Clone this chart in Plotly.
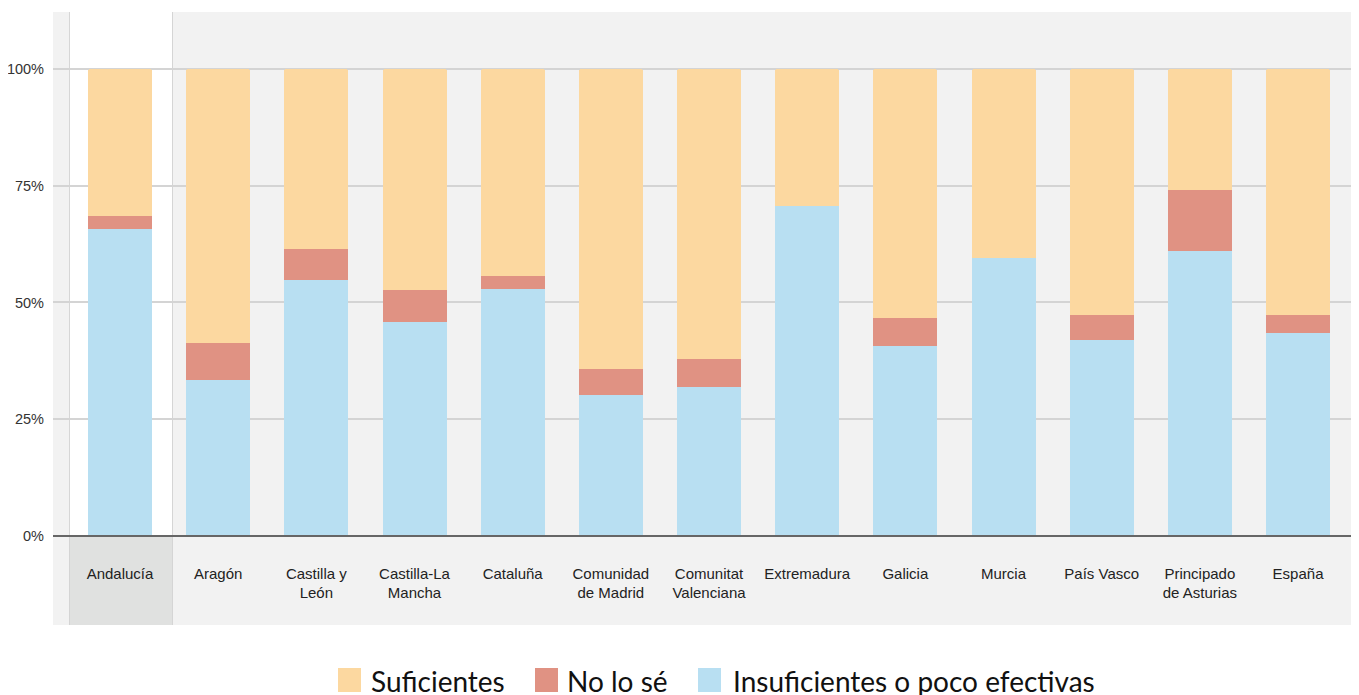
import plotly.graph_objects as go

categories = ["Andalucía", "Aragón", "Castilla y<br>León", "Castilla-La<br>Mancha", "Cataluña",
              "Comunidad<br>de Madrid", "Comunitat<br>Valenciana", "Extremadura", "Galicia",
              "Murcia", "País Vasco", "Principado<br>de Asturias", "España"]
insuficientes = [65.8, 33.5, 54.9, 45.9, 52.8, 30.1, 31.8, 70.7, 40.6, 59.5, 41.9, 61.1, 43.4]
no_lo_se = [2.8, 7.8, 6.6, 6.7, 2.8, 5.6, 6.0, 0.0, 6.0, 0.0, 5.5, 13.0, 4.0]
suficientes = [round(100 - a - b, 1) for a, b in zip(insuficientes, no_lo_se)]

series_names = ["Suficientes", "No lo sé", "Insuficientes o poco efectivas"]
colors = {"Suficientes": "#fcd8a0", "No lo sé": "#e09283", "Insuficientes o poco efectivas": "#b8dff2"}
y_ticks = [0, 25, 50, 75, 100]
y_ticktext = ["0%", "25%", "50%", "75%", "100%"]

W, H = 1359, 695
OFF = 8  # page body margin
ML, MR, MT, MB = 45, 8, 4, 78
plot_w = W - ML - MR
plot_h = H - MT - MB

fig = go.Figure()
for name, vals in [("Insuficientes o poco efectivas", insuficientes), ("No lo sé", no_lo_se), ("Suficientes", suficientes)]:
    fig.add_trace(go.Bar(
        x=categories, y=vals, name=name, width=0.652,
        marker=dict(color=colors[name], line=dict(width=0)),
        showlegend=False, hovertemplate="%{y}%<extra>" + name + "</extra>",
    ))

shapes = []
shapes.append(dict(type="rect", xref="x", yref="y", x0=-0.51, x1=0.53, y0=0, y1=113,
                   fillcolor="white", line=dict(width=0), layer="below"))
shapes.append(dict(type="rect", xref="x", yref="y", x0=-0.51, x1=0.53, y0=-20, y1=0,
                   fillcolor="#e0e1e0", line=dict(width=0), layer="below"))
for xv in (-0.51, 0.53):
    shapes.append(dict(type="line", xref="x", yref="paper", x0=xv, x1=xv, y0=0, y1=1,
                       line=dict(color="#cccccc", width=1.5), layer="below"))

# manual legend (positions in screen pixels)
def px_x(p):
    return (p - OFF - ML) / plot_w

def px_y(p):
    return (H - MB - (p - OFF)) / plot_h

legend_items = [("Suficientes", 338, 371), ("No lo sé", 535, 567), ("Insuficientes o poco efectivas", 698, 733)]
annotations = []
for name, sx, tx in legend_items:
    shapes.append(dict(type="rect", xref="paper", yref="paper",
                       x0=px_x(sx), x1=px_x(sx + 23), y0=px_y(692), y1=px_y(668),
                       fillcolor=colors[name], line=dict(width=0)))
    annotations.append(dict(xref="paper", yref="paper", x=px_x(tx - 2), y=px_y(681),
                            xanchor="left", yanchor="middle", text=name, showarrow=False,
                            font=dict(family="Lato", size=28, color="#111111")))

fig.update_layout(
    width=W, height=H,
    margin=dict(l=ML, r=MR, t=MT, b=MB, pad=0, autoexpand=False),
    barmode="stack", bargap=0, barcornerradius=3,
    plot_bgcolor="#f2f2f2", paper_bgcolor="white",
    font=dict(family="Liberation Sans, Arial", size=14, color="#222222"),
    xaxis=dict(type="category", range=[-0.6825, 12.621], showgrid=False, zeroline=False,
               showline=True, linecolor="#666666", linewidth=1.5, automargin=False,
               anchor="free", position=(625 - 536) / plot_h,
               ticks="", ticklabelstandoff=24, tickfont=dict(size=15, color="#222222"),
               fixedrange=True),
    yaxis=dict(range=[-19.06, 112.2], tickvals=y_ticks, ticktext=y_ticktext,
               showgrid=True, gridcolor="#d4d4d4", gridwidth=1.5, zeroline=False,
               automargin=False,
               ticks="", ticklabelstandoff=8, tickfont=dict(size=14.5, color="#333333"),
               fixedrange=True),
    shapes=shapes, annotations=annotations,
)

fig.write_html("out.html")
